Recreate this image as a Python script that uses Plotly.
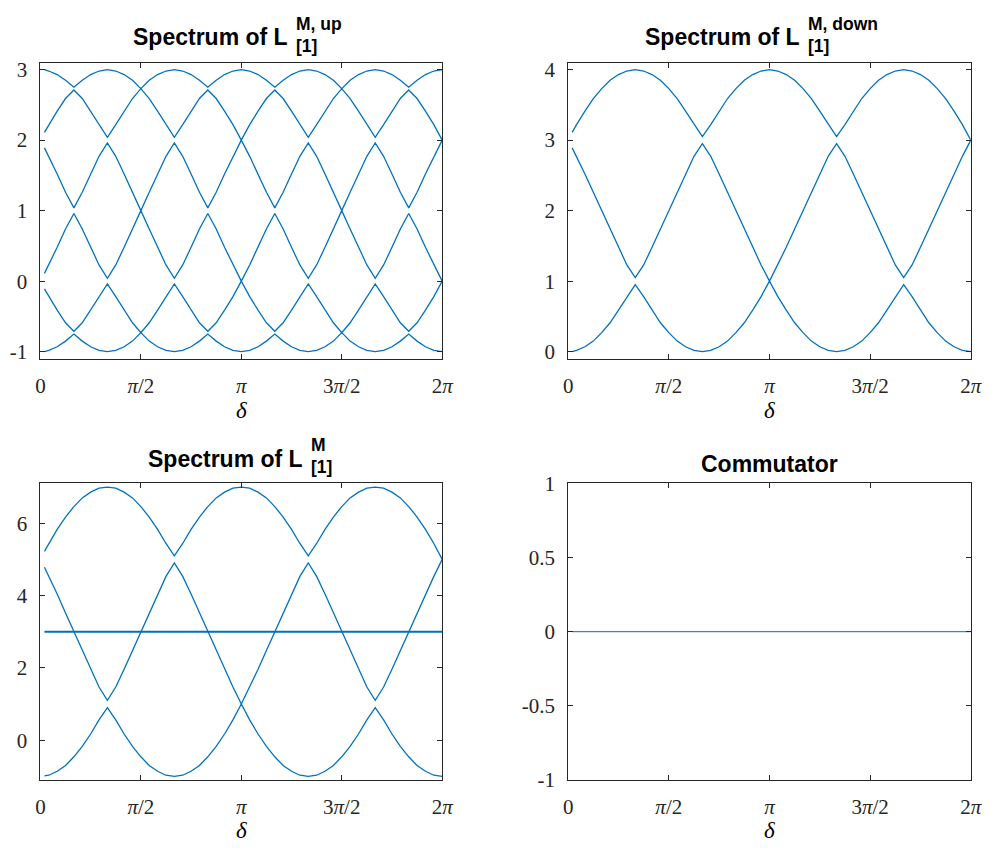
import numpy as np
import plotly.graph_objects as go

# Phase delta in degrees: first sample just inside the interval, then 7.5 degree steps up to 360
delta_deg = [3.6] + [7.5 * i for i in range(1, 49)]
delta = np.deg2rad(delta_deg)

# Spectrum of L^{M,up}_{[1]}: six sorted eigenvalue bands
up_band1 = [-1.00, -0.98, -0.93, -0.85, -0.75, -0.85, -0.93, -0.98, -1.00,
            -0.98, -0.93, -0.85, -0.73, -0.85, -0.93, -0.98, -1.00,
            -0.98, -0.93, -0.85, -0.75, -0.85, -0.93, -0.98, -1.00,
            -0.98, -0.93, -0.85, -0.75, -0.85, -0.93, -0.98, -1.00,
            -0.98, -0.93, -0.85, -0.73, -0.85, -0.93, -0.98, -1.00,
            -0.98, -0.93, -0.85, -0.75, -0.85, -0.93, -0.98, -1.00]
up_band2 = [-0.11, -0.22, -0.41, -0.59, -0.71, -0.59, -0.41, -0.22, -0.04,
            -0.22, -0.41, -0.59, -0.73, -0.59, -0.41, -0.22, -0.04,
            -0.22, -0.41, -0.59, -0.71, -0.59, -0.41, -0.22, 0.00,
            -0.22, -0.41, -0.59, -0.71, -0.59, -0.41, -0.22, -0.04,
            -0.22, -0.41, -0.59, -0.73, -0.59, -0.41, -0.22, -0.04,
            -0.22, -0.41, -0.59, -0.71, -0.59, -0.41, -0.22, 0.00]
up_band3 = [0.11, 0.23, 0.48, 0.74, 0.96, 0.74, 0.48, 0.23, 0.04,
            0.23, 0.48, 0.74, 1.00, 0.74, 0.48, 0.23, 0.04,
            0.23, 0.48, 0.74, 0.96, 0.74, 0.48, 0.23, 0.00,
            0.23, 0.48, 0.74, 0.96, 0.74, 0.48, 0.23, 0.04,
            0.23, 0.48, 0.74, 1.00, 0.74, 0.48, 0.23, 0.04,
            0.23, 0.48, 0.74, 0.96, 0.74, 0.48, 0.23, 0.00]
up_band4 = [1.89, 1.77, 1.52, 1.26, 1.04, 1.26, 1.52, 1.77, 1.96,
            1.77, 1.52, 1.26, 1.00, 1.26, 1.52, 1.77, 1.96,
            1.77, 1.52, 1.26, 1.04, 1.26, 1.52, 1.77, 2.00,
            1.77, 1.52, 1.26, 1.04, 1.26, 1.52, 1.77, 1.96,
            1.77, 1.52, 1.26, 1.00, 1.26, 1.52, 1.77, 1.96,
            1.77, 1.52, 1.26, 1.04, 1.26, 1.52, 1.77, 2.00]
up_band5 = [2.11, 2.22, 2.41, 2.59, 2.71, 2.59, 2.41, 2.22, 2.04,
            2.22, 2.41, 2.59, 2.73, 2.59, 2.41, 2.22, 2.04,
            2.22, 2.41, 2.59, 2.71, 2.59, 2.41, 2.22, 2.00,
            2.22, 2.41, 2.59, 2.71, 2.59, 2.41, 2.22, 2.04,
            2.22, 2.41, 2.59, 2.73, 2.59, 2.41, 2.22, 2.04,
            2.22, 2.41, 2.59, 2.71, 2.59, 2.41, 2.22, 2.00]
up_band6 = [3.00, 2.98, 2.93, 2.85, 2.75, 2.85, 2.93, 2.98, 3.00,
            2.98, 2.93, 2.85, 2.73, 2.85, 2.93, 2.98, 3.00,
            2.98, 2.93, 2.85, 2.75, 2.85, 2.93, 2.98, 3.00,
            2.98, 2.93, 2.85, 2.75, 2.85, 2.93, 2.98, 3.00,
            2.98, 2.93, 2.85, 2.73, 2.85, 2.93, 2.98, 3.00,
            2.98, 2.93, 2.85, 2.75, 2.85, 2.93, 2.98, 3.00]

# Spectrum of L^{M,down}_{[1]}: three sorted eigenvalue bands
down_band1 = [0.00, 0.02, 0.07, 0.15, 0.27, 0.41, 0.59, 0.78, 0.95, 0.78, 0.59, 0.41, 0.27, 0.15, 0.07, 0.02, 0.00,
              0.02, 0.07, 0.15, 0.27, 0.41, 0.59, 0.78, 1.00, 0.78, 0.59, 0.41, 0.27, 0.15, 0.07, 0.02, 0.00,
              0.02, 0.07, 0.15, 0.27, 0.41, 0.59, 0.78, 0.95, 0.78, 0.59, 0.41, 0.27, 0.15, 0.07, 0.02, 0.00]
down_band2 = [2.89, 2.77, 2.52, 2.26, 2.00, 1.74, 1.48, 1.23, 1.05, 1.23, 1.48, 1.74, 2.00, 2.26, 2.52, 2.77, 2.95,
              2.77, 2.52, 2.26, 2.00, 1.74, 1.48, 1.23, 1.00, 1.23, 1.48, 1.74, 2.00, 2.26, 2.52, 2.77, 2.95,
              2.77, 2.52, 2.26, 2.00, 1.74, 1.48, 1.23, 1.05, 1.23, 1.48, 1.74, 2.00, 2.26, 2.52, 2.77, 3.00]
down_band3 = [3.11, 3.22, 3.41, 3.59, 3.73, 3.85, 3.93, 3.98, 4.00, 3.98, 3.93, 3.85, 3.73, 3.59, 3.41, 3.22, 3.05,
              3.22, 3.41, 3.59, 3.73, 3.85, 3.93, 3.98, 4.00, 3.98, 3.93, 3.85, 3.73, 3.59, 3.41, 3.22, 3.05,
              3.22, 3.41, 3.59, 3.73, 3.85, 3.93, 3.98, 4.00, 3.98, 3.93, 3.85, 3.73, 3.59, 3.41, 3.22, 3.00]

# Spectrum of L^{M}_{[1]}: three dispersive bands and the flat band
full_band1 = [-0.99, -0.97, -0.86, -0.70, -0.46, -0.17, 0.17, 0.56, 0.90, 0.56, 0.17, -0.17, -0.46, -0.70, -0.86, -0.97, -1.00,
              -0.97, -0.86, -0.70, -0.46, -0.17, 0.17, 0.56, 1.00, 0.56, 0.17, -0.17, -0.46, -0.70, -0.86, -0.97, -1.00,
              -0.97, -0.86, -0.70, -0.46, -0.17, 0.17, 0.56, 0.90, 0.56, 0.17, -0.17, -0.46, -0.70, -0.86, -0.97, -1.00]
full_band2 = [4.78, 4.53, 4.04, 3.52, 3.00, 2.48, 1.96, 1.47, 1.10, 1.47, 1.96, 2.48, 3.00, 3.52, 4.04, 4.53, 4.90,
              4.53, 4.04, 3.52, 3.00, 2.48, 1.96, 1.47, 1.00, 1.47, 1.96, 2.48, 3.00, 3.52, 4.04, 4.53, 4.90,
              4.53, 4.04, 3.52, 3.00, 2.48, 1.96, 1.47, 1.10, 1.47, 1.96, 2.48, 3.00, 3.52, 4.04, 4.53, 5.00]
full_band3 = [5.22, 5.44, 5.83, 6.17, 6.46, 6.70, 6.86, 6.97, 7.00, 6.97, 6.86, 6.70, 6.46, 6.17, 5.83, 5.44, 5.10,
              5.44, 5.83, 6.17, 6.46, 6.70, 6.86, 6.97, 7.00, 6.97, 6.86, 6.70, 6.46, 6.17, 5.83, 5.44, 5.10,
              5.44, 5.83, 6.17, 6.46, 6.70, 6.86, 6.97, 7.00, 6.97, 6.86, 6.70, 6.46, 6.17, 5.83, 5.44, 5.00]
full_flat = [3.00] * len(delta)

# Commutator norm of the two operators
commutator = [0.00] * len(delta)

# Tick values and labels
x_tickvals = [0, np.pi / 2, np.pi, 3 * np.pi / 2, 2 * np.pi]
x_ticktext = ["0", "<i>π</i>/2", "<i>π</i>", "3<i>π</i>/2", "2<i>π</i>"]
up_yticks = [-1, 0, 1, 2, 3]
down_yticks = [0, 1, 2, 3, 4]
full_yticks = [0, 2, 4, 6]
comm_yticks = [-1, -0.5, 0, 0.5, 1]
comm_yticktext = ["-1", "-0.5", "0", "0.5", "1"]

W, H = 1000, 859
LINE = "#0072BD"
AX = "#262626"


def px_x(p):
    return p / W


def px_y(p):
    return 1 - p / H


fig = go.Figure()

panels = [
    ("x", "y", [up_band1, up_band2, up_band3, up_band4, up_band5, up_band6]),
    ("x2", "y2", [down_band1, down_band2, down_band3]),
    ("x3", "y3", [full_band1, full_band2, full_band3]),
]
for xa, ya, bands in panels:
    for band in bands:
        fig.add_trace(go.Scatter(x=delta, y=band, mode="lines", xaxis=xa, yaxis=ya,
                                 line=dict(color=LINE, width=1.3), hoverinfo="skip"))
fig.add_trace(go.Scatter(x=delta, y=full_flat, mode="lines", xaxis="x3", yaxis="y3",
                         line=dict(color=LINE, width=2.0), hoverinfo="skip"))
fig.add_trace(go.Scatter(x=delta, y=commutator, mode="lines", xaxis="x4", yaxis="y4",
                         line=dict(color=LINE, width=1.0), hoverinfo="skip"))

tickfont = dict(family="Liberation Serif", size=21, color=AX)
common = dict(showline=True, linecolor=AX, linewidth=1, mirror="ticks", ticks="inside",
              ticklen=5, tickwidth=1, tickcolor=AX, showgrid=False, zeroline=False,
              tickfont=tickfont)

left_dom = [px_x(36), px_x(444.3)]
right_dom = [px_x(572.3), px_x(981.5)]
top_dom = [px_y(356.7), px_y(52)]
bot_dom = [px_y(790), px_y(485)]


def xax(dom, anchor):
    return dict(domain=dom, anchor=anchor, range=[0, 2 * np.pi], tickvals=x_tickvals,
                ticktext=x_ticktext, ticklabelstandoff=8, **common)


def yax(dom, anchor, rng, vals, text=None):
    return dict(domain=dom, anchor=anchor, range=rng, tickvals=vals,
                ticktext=text if text is not None else [str(v) for v in vals],
                ticklabelstandoff=8, **common)


fig.update_layout(
    width=W, height=H, margin=dict(l=0, r=0, t=0, b=0),
    paper_bgcolor="white", plot_bgcolor="white", showlegend=False,
    xaxis=xax(left_dom, "y"), yaxis=yax(top_dom, "x", [-1.1, 3.1], up_yticks),
    xaxis2=xax(right_dom, "y2"), yaxis2=yax(top_dom, "x2", [-0.1, 4.1], down_yticks),
    xaxis3=xax(left_dom, "y3"), yaxis3=yax(bot_dom, "x3", [-1.1, 7.1], full_yticks),
    xaxis4=xax(right_dom, "y4"), yaxis4=yax(bot_dom, "x4", [-1, 1], comm_yticks, comm_yticktext),
)


def label(text, x, y, size, xanchor, family="Liberation Sans"):
    fig.add_annotation(text=text, x=px_x(x), y=px_y(y), xref="paper", yref="paper",
                       xanchor=xanchor, yanchor="middle", showarrow=False, borderpad=0,
                       font=dict(family=family, size=size, color="black"))


# Panel titles: main text with stacked superscript / subscript
label("<b>Spectrum of L</b>", 289, 25.3, 23, "right")
label("<b>M, up</b>", 295, 12.2, 17.5, "left")
label("<b>[1]</b>", 295, 35.2, 17.5, "left")

label("<b>Spectrum of L</b>", 808.5, 25.3, 23, "right")
label("<b>M, down</b>", 815, 12.2, 17.5, "left")
label("<b>[1]</b>", 815, 35.2, 17.5, "left")

label("<b>Spectrum of L</b>", 303.5, 460.3, 23, "right")
label("<b>M</b>", 310, 445.6, 17.5, "left")
label("<b>[1]</b>", 310, 468.5, 17.5, "left")

label("<b>Commutator</b>", 776.9, 465, 23, "center")

# Axis titles
for cx, cy in [(240, 410), (776.9, 410), (240, 842), (776.9, 842)]:
    label("<i>δ</i>", cx, cy, 23, "center", family="Liberation Serif")

fig.write_html("out.html")
